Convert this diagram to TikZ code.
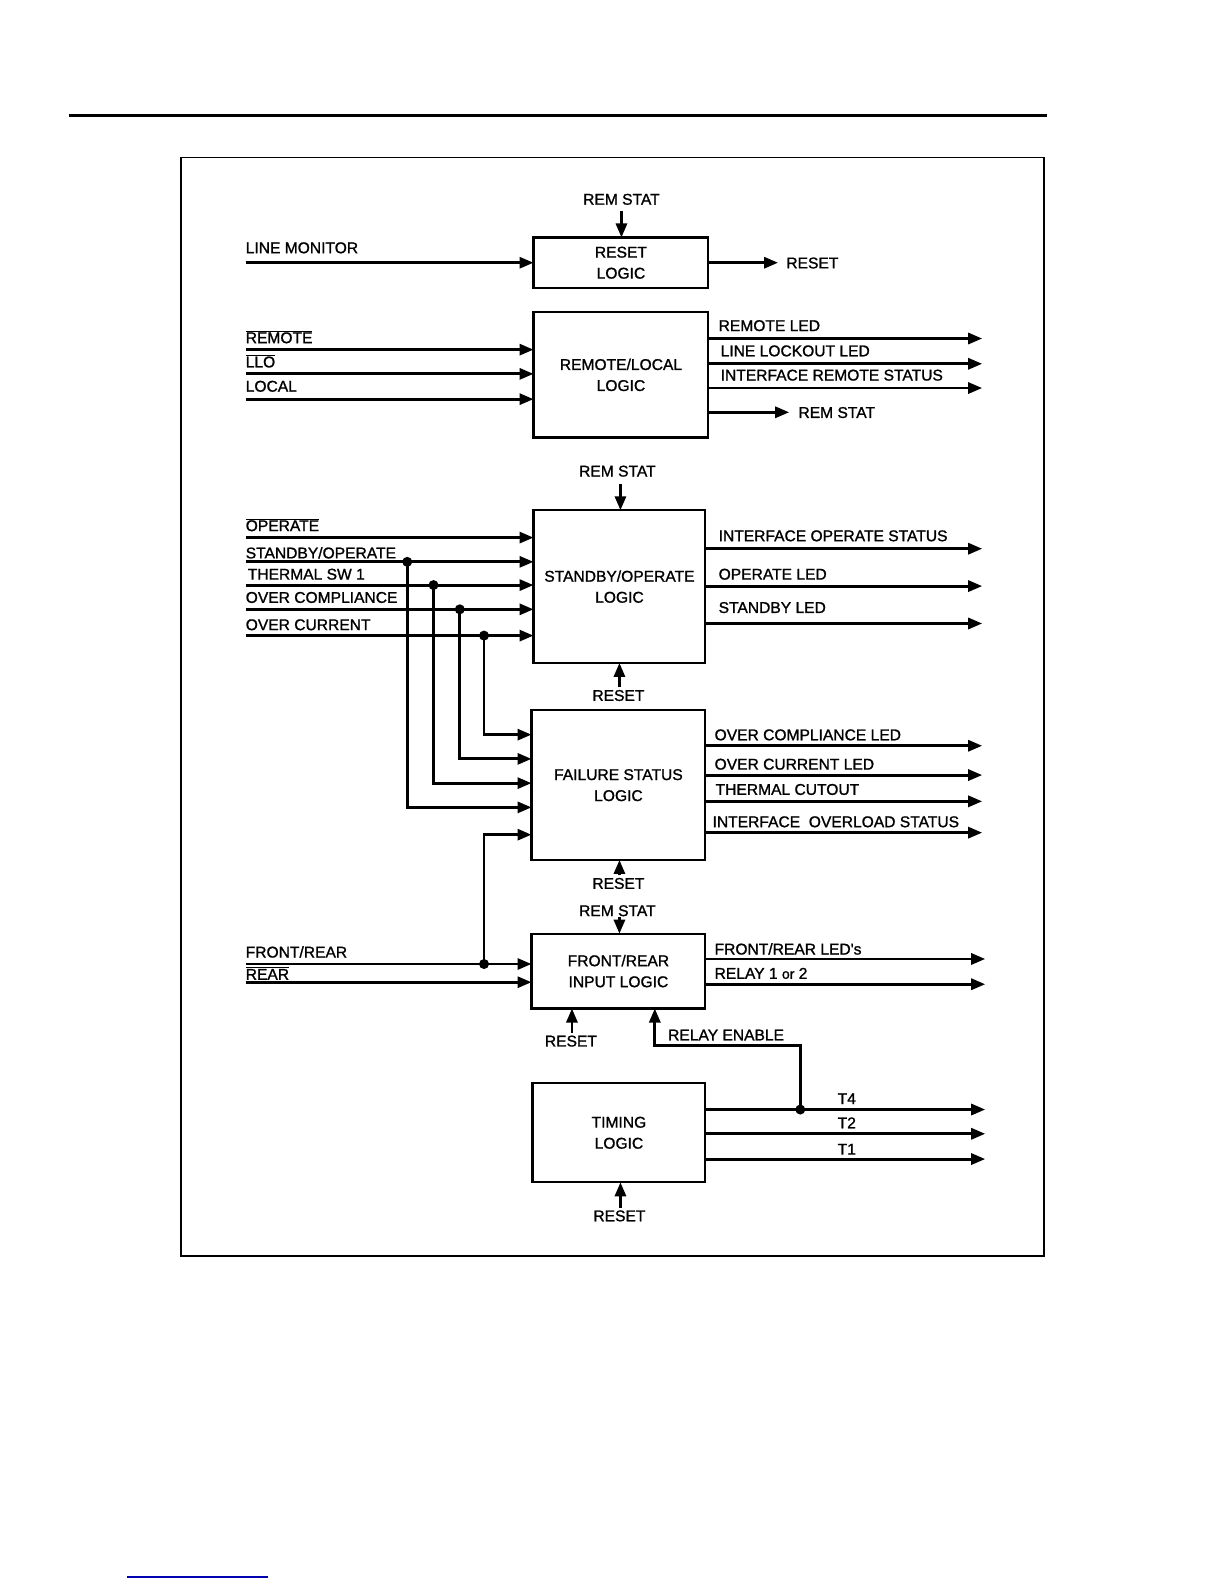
\documentclass[tikz,border=0pt]{standalone}
\usepackage{fontspec}
\setmainfont{Liberation Sans}
\newfontface\labfont{Liberation Sans}[FakeBold=1.2]
\usetikzlibrary{arrows.meta}
\newcommand{\ovl}[1]{$\overline{\mbox{#1}}$}
\begin{document}
\begin{tikzpicture}[x=1.0105pt,y=-1.0105pt,
 sig/.style={line width=2.9pt},
 arr/.style={line width=2.9pt,-{Triangle[length=14pt,width=11pt]}},
 blk/.style={draw,line width=2.2pt,inner sep=0pt,outer sep=0pt,align=center,font=\labfont\fontsize{15.6}{21}\selectfont},
 lbl/.style={inner sep=0pt,text height=11.3pt,text depth=0pt,font=\labfont\fontsize{15.6}{18}\selectfont},
 dot/.style={circle,fill,inner sep=0pt,minimum size=10pt}]
\useasboundingbox (0pt,0pt) rectangle (1224pt,-1584pt);
\draw[line width=3pt] (68,114) -- (1036,114);
\draw[line width=1.3pt] (179,156) rectangle (1033,1243);
\draw[blue!70!black,line width=1.2pt] (127pt,-1577pt) -- (268pt,-1577pt);

% ---------- blocks
\node[blk,minimum width=174.8pt,minimum height=50.5pt] (rst) at (614.5,260) {RESET\\LOGIC};
\node[blk,minimum width=174.8pt,minimum height=125.3pt] (rl) at (614.5,371) {REMOTE/LOCAL\\LOGIC};
\node[blk,minimum width=171.8pt,minimum height=152.6pt] (so) at (613,580.5) {STANDBY/OPERATE\\LOGIC};
\node[blk,minimum width=173.8pt,minimum height=149.6pt] (fs) at (612,777) {FAILURE STATUS\\LOGIC};
\node[blk,minimum width=173.8pt,minimum height=74.8pt] (fr) at (612,961) {FRONT/REAR\\INPUT LOGIC};
\node[blk,minimum width=172.8pt,minimum height=99pt] (tm) at (612.5,1121) {TIMING\\LOGIC};

% ---------- reset logic
\node[lbl] (rs1) at (615,197) {REM STAT};
\coordinate (rs1a) at (615,209);
\draw[arr] (rs1a) -- (rs1a |- rst.north);
\node[lbl,anchor=west] (lmL) at (243,245) {LINE MONITOR};
\coordinate (lm) at (243,260);
\draw[arr] (lm) -- (lm -| rst.west);
\node[lbl,anchor=west] (rsO) at (778,260) {RESET};
\draw[arr] (rst.east) -- (770,260);

% ---------- remote/local
\node[lbl,anchor=west] (remL) at (243,334) {\ovl{REMOTE}};
\node[lbl,anchor=west] (lloL) at (243,358) {\ovl{LLO}};
\node[lbl,anchor=west] (locL) at (243,382) {LOCAL};
\coordinate (rem) at (243,346);
\coordinate (llo) at (243,370);
\coordinate (loc) at (243,395);
\draw[arr] (rem) -- (rem -| rl.west);
\draw[arr] (llo) -- (llo -| rl.west);
\draw[arr] (loc) -- (loc -| rl.west);
\node[lbl,anchor=west] (o1L) at (711,322) {REMOTE LED};
\node[lbl,anchor=west] (o2L) at (713,347) {LINE LOCKOUT LED};
\node[lbl,anchor=west] (o3L) at (713,371) {INTERFACE REMOTE STATUS};
\node[lbl,anchor=west] (o4L) at (790,408) {REM STAT};
\coordinate (o1) at (972,335);
\coordinate (o2) at (972,360);
\coordinate (o3) at (972,384);
\coordinate (o4) at (781,408);
\draw[arr] (o1 -| rl.east) -- (o1);
\draw[arr] (o2 -| rl.east) -- (o2);
\draw[arr] (o3 -| rl.east) -- (o3);
\draw[arr] (o4 -| rl.east) -- (o4);

% ---------- standby/operate
\node[lbl] (rs2) at (611,466) {REM STAT};
\coordinate (rs2a) at (614,479);
\draw[arr] (rs2a) -- (rs2a |- so.north);
\node[lbl,anchor=west] (opL) at (243,520) {\ovl{OPERATE}};
\node[lbl,anchor=west] (sbL) at (243,547) {STANDBY/OPERATE};
\node[lbl,anchor=west] (thL) at (245,568) {THERMAL SW 1};
\node[lbl,anchor=west] (ocL) at (243,591) {OVER COMPLIANCE};
\node[lbl,anchor=west] (cuL) at (243,618) {OVER CURRENT};
\coordinate (op) at (243,532);
\coordinate (sb) at (243,556);
\coordinate (th) at (243,579);
\coordinate (oc) at (243,603);
\coordinate (cu) at (243,629);
\draw[arr] (op) -- (op -| so.west);
\draw[arr] (sb) -- (sb -| so.west);
\draw[arr] (th) -- (th -| so.west);
\draw[arr] (oc) -- (oc -| so.west);
\draw[arr] (cu) -- (cu -| so.west);
\node[dot] (d1) at (403,556) {};
\node[dot] (d2) at (429,579) {};
\node[dot] (d3) at (455,603) {};
\node[dot] (d4) at (479,629) {};
\node[lbl,anchor=west] (s1L) at (711,530) {INTERFACE OPERATE STATUS};
\node[lbl,anchor=west] (s2L) at (711,568) {OPERATE LED};
\node[lbl,anchor=west] (s3L) at (711,601) {STANDBY LED};
\coordinate (s1) at (972,543);
\coordinate (s2) at (972,580);
\coordinate (s3) at (972,617);
\draw[arr] (s1 -| so.east) -- (s1);
\draw[arr] (s2 -| so.east) -- (s2);
\draw[arr] (s3 -| so.east) -- (s3);
\node[lbl] (rs3) at (612,688) {RESET};
\coordinate (rs3a) at (613,680);
\draw[arr] (rs3a) -- (rs3a |- so.south);

% ---------- failure status
\coordinate (f1) at (479,727);
\coordinate (f2) at (455,751);
\coordinate (f3) at (429,775);
\coordinate (f4) at (403,799);
\coordinate (f5) at (479,826);
\draw[arr] (d4.center) -- (f1) -- (f1 -| fs.west);
\draw[arr] (d3.center) -- (f2) -- (f2 -| fs.west);
\draw[arr] (d2.center) -- (f3) -- (f3 -| fs.west);
\draw[arr] (d1.center) -- (f4) -- (f4 -| fs.west);
\node[lbl,anchor=west] (e1L) at (707,727) {OVER COMPLIANCE LED};
\node[lbl,anchor=west] (e2L) at (707,756) {OVER CURRENT LED};
\node[lbl,anchor=west] (e3L) at (708,781) {THERMAL CUTOUT};
\node[lbl,anchor=west] (e4L) at (705,813) {INTERFACE\ \ OVERLOAD STATUS};
\coordinate (e1) at (972,738);
\coordinate (e2) at (972,767);
\coordinate (e3) at (972,793);
\coordinate (e4) at (972,824);
\draw[arr] (e1 -| fs.east) -- (e1);
\draw[arr] (e2 -| fs.east) -- (e2);
\draw[arr] (e3 -| fs.east) -- (e3);
\draw[arr] (e4 -| fs.east) -- (e4);
\node[lbl] (rs4) at (612,874) {RESET};
\coordinate (rs4a) at (613,866);
\draw[arr] (rs4a) -- (rs4a |- fs.south);

% ---------- front/rear
\node[lbl] (rs5) at (611,901) {REM STAT};
\coordinate (rs5a) at (613,907);
\draw[arr] (rs5a) -- (rs5a |- fr.north);
\node[lbl,anchor=west] (fL) at (243,942) {FRONT/REAR};
\node[lbl,anchor=west] (rL) at (243,964) {\ovl{REAR}};
\coordinate (fi) at (243,954);
\coordinate (ri) at (243,972);
\draw[arr] (fi) -- (fi -| fr.west);
\draw[arr] (ri) -- (ri -| fr.west);
\node[dot] (d5) at (479,954) {};
\draw[arr] (d5.center) -- (f5) -- (f5 -| fs.west);
\node[lbl,anchor=west] (g1L) at (707,939) {FRONT/REAR LED's};
\node[lbl,anchor=west] (g2L) at (707,963) {RELAY 1 {\fontsize{14}{16}\selectfont or} 2};
\coordinate (g1) at (975,949);
\coordinate (g2) at (975,974);
\draw[arr] (g1 -| fr.east) -- (g1);
\draw[arr] (g2 -| fr.east) -- (g2);
\node[lbl] (rs6) at (565,1030) {RESET};
\coordinate (rs6a) at (566,1022);
\draw[arr] (rs6a) -- (rs6a |- fr.south);

% ---------- timing
\node[lbl,anchor=west] (reL) at (661,1024) {RELAY ENABLE};
\node[lbl] (t4L) at (838,1087) {T4};
\node[lbl] (t2L) at (838,1111) {T2};
\node[lbl] (t1L) at (838,1137) {T1};
\coordinate (t4) at (975,1098);
\coordinate (t2) at (975,1122);
\coordinate (t1) at (975,1147);
\draw[arr] (t4 -| tm.east) -- (t4);
\draw[arr] (t2 -| tm.east) -- (t2);
\draw[arr] (t1 -| tm.east) -- (t1);
\node[dot] (d6) at (792,1098) {};
\coordinate (reA) at (792,1035);
\coordinate (reB) at (648,1035);
\draw[arr] (d6.center) -- (reA) -- (reB) -- (reB |- fr.south);
\node[lbl] (rs7) at (613,1203) {RESET};
\coordinate (rs7a) at (614,1195);
\draw[arr] (rs7a) -- (rs7a |- tm.south);
\end{tikzpicture}
\end{document}
